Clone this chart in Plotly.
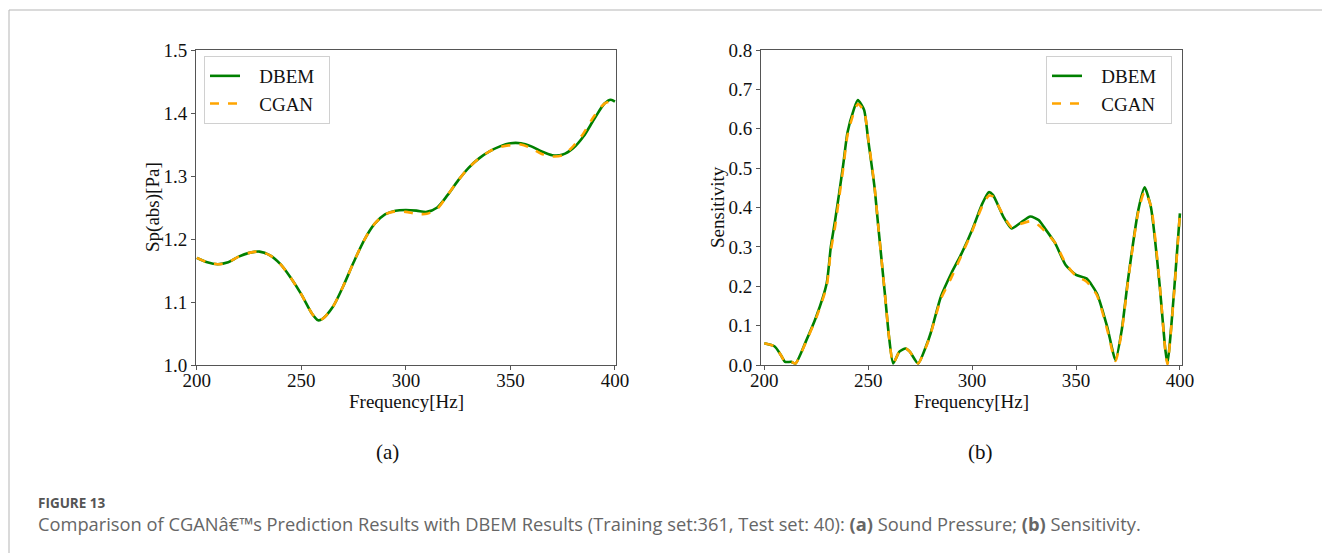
import plotly.graph_objects as go

# The page body adds an 8 px margin, so the figure is drawn 8 px smaller and
# every reference pixel position is shifted by OFF.
OFF = 8
W, H = 1330 - OFF, 553 - OFF

# ---------------- data ----------------
freq_a = [200, 205, 210, 215, 220, 225, 230, 235, 240, 245, 250, 255, 258, 260, 265, 270,
          275, 280, 285, 290, 295, 300, 305, 310, 315, 320, 325, 330, 335, 340, 345, 350,
          355, 360, 365, 370, 375, 380, 385, 390, 395, 398, 400]
sp_dbem = [1.170, 1.163, 1.160, 1.163, 1.172, 1.178, 1.180, 1.174, 1.160, 1.138, 1.112, 1.082,
           1.071, 1.073, 1.092, 1.125, 1.163, 1.198, 1.224, 1.239, 1.245, 1.246, 1.245, 1.243,
           1.250, 1.270, 1.293, 1.313, 1.328, 1.339, 1.347, 1.352, 1.352, 1.347, 1.339, 1.333,
           1.334, 1.344, 1.363, 1.390, 1.415, 1.421, 1.418]
sp_cgan = [1.170, 1.163, 1.160, 1.163, 1.172, 1.178, 1.180, 1.174, 1.160, 1.138, 1.112, 1.082,
           1.071, 1.073, 1.092, 1.125, 1.163, 1.198, 1.224, 1.239, 1.244, 1.243, 1.240, 1.240,
           1.248, 1.270, 1.293, 1.313, 1.328, 1.339, 1.346, 1.349, 1.350, 1.344, 1.335, 1.331,
           1.333, 1.347, 1.368, 1.395, 1.415, 1.418, 1.417]

freq_b = [200, 205, 208, 210, 213, 215, 220, 225, 230, 232, 234, 236, 238, 240, 243, 245,
          248, 250, 253, 255, 258, 260, 262, 265, 268, 270, 274, 278, 280, 285, 290, 295,
          300, 305, 308, 310, 315, 319, 323, 328, 332, 335, 340, 345, 350, 355, 360, 365,
          369, 372, 375, 380, 383, 386, 390, 393, 394, 397, 400]
sens_dbem = [0.055, 0.047, 0.025, 0.008, 0.008, 0.004, 0.060, 0.123, 0.207, 0.300, 0.365, 0.436,
             0.510, 0.590, 0.648, 0.673, 0.648, 0.571, 0.453, 0.343, 0.182, 0.072, 0.004, 0.034,
             0.042, 0.034, 0.004, 0.050, 0.080, 0.174, 0.233, 0.284, 0.343, 0.411, 0.439, 0.432,
             0.377, 0.347, 0.360, 0.377, 0.368, 0.347, 0.309, 0.254, 0.229, 0.220, 0.182, 0.097,
             0.013, 0.089, 0.216, 0.394, 0.451, 0.402, 0.216, 0.038, 0.004, 0.174, 0.385]
sens_cgan = [0.055, 0.047, 0.025, 0.008, 0.008, 0.004, 0.058, 0.120, 0.200, 0.290, 0.350, 0.425,
             0.500, 0.583, 0.640, 0.663, 0.645, 0.575, 0.455, 0.343, 0.182, 0.072, 0.004, 0.034,
             0.042, 0.034, 0.004, 0.048, 0.078, 0.168, 0.222, 0.280, 0.340, 0.405, 0.430, 0.428,
             0.380, 0.350, 0.358, 0.365, 0.355, 0.340, 0.310, 0.258, 0.226, 0.212, 0.178, 0.090,
             0.010, 0.085, 0.212, 0.390, 0.440, 0.405, 0.220, 0.035, 0.002, 0.170, 0.385]

ticks_a = [1.0, 1.1, 1.2, 1.3, 1.4, 1.5]
ticks_b = [0.0, 0.1, 0.2, 0.3, 0.4, 0.5, 0.6, 0.7, 0.8]
ticks_x = [200, 250, 300, 350, 400]

# ---------------- style ----------------
SERIF = "Liberation Serif"
GREEN = "#008000"
ORANGE = "#FFA500"
AX = "#555555"
NB = "\u00a0"


def px(x):
    return (x - OFF) / W


def py(y):
    return 1 - (y - OFF) / H


fig = go.Figure()

fig.add_trace(go.Scatter(x=freq_a, y=sp_dbem, mode="lines", name=NB * 3 + "DBEM" + NB * 2,
                         line=dict(color=GREEN, width=2.6, shape="spline", smoothing=0.8),
                         xaxis="x", yaxis="y", legend="legend"))
fig.add_trace(go.Scatter(x=freq_a, y=sp_cgan, mode="lines", name=NB * 3 + "CGAN" + NB * 2,
                         line=dict(color=ORANGE, width=2.6, dash="dash", shape="spline", smoothing=0.8),
                         xaxis="x", yaxis="y", legend="legend"))
fig.add_trace(go.Scatter(x=freq_b, y=sens_dbem, mode="lines", name=NB * 3 + "DBEM" + NB * 2,
                         line=dict(color=GREEN, width=2.6, shape="spline", smoothing=0.6),
                         xaxis="x2", yaxis="y2", legend="legend2"))
fig.add_trace(go.Scatter(x=freq_b, y=sens_cgan, mode="lines", name=NB * 3 + "CGAN" + NB * 2,
                         line=dict(color=ORANGE, width=2.6, dash="dash", shape="spline", smoothing=0.6),
                         xaxis="x2", yaxis="y2", legend="legend2"))

axis_common = dict(showgrid=False, zeroline=False, showline=True, mirror=True,
                   linecolor=AX, linewidth=1, ticks="outside", ticklen=4, tickwidth=1,
                   tickcolor=AX, automargin=False,
                   tickfont=dict(family=SERIF, size=19, color="#111"))

fig.update_layout(
    template="none",
    width=W, height=H,
    margin=dict(l=0, r=0, t=0, b=0, pad=0, autoexpand=False),
    paper_bgcolor="white", plot_bgcolor="white",
    xaxis=dict(domain=[px(196), px(616)], range=[199.6, 400.5], tickvals=ticks_x,
               anchor="y", ticklabelstandoff=-6, **axis_common),
    yaxis=dict(domain=[py(365), py(50)], range=[1.0, 1.5], tickvals=ticks_a,
               ticktext=[f"{t:.1f}" for t in ticks_a], anchor="x", **axis_common),
    xaxis2=dict(domain=[px(761), px(1182)], range=[198.4, 401], tickvals=ticks_x,
                anchor="y2", ticklabelstandoff=-6, **axis_common),
    yaxis2=dict(domain=[py(365), py(50)], range=[0.0, 0.8], tickvals=ticks_b,
                ticktext=[f"{t:.1f}" for t in ticks_b], anchor="x2", **axis_common),
    legend=dict(x=px(204), y=py(56), xanchor="left", yanchor="top",
                bgcolor="white", bordercolor="#d0d0d0", borderwidth=1,
                font=dict(family=SERIF, size=19, color="#111"), tracegroupgap=0),
    legend2=dict(x=px(1172), y=py(56), xanchor="right", yanchor="top",
                 bgcolor="white", bordercolor="#d0d0d0", borderwidth=1,
                 font=dict(family=SERIF, size=19, color="#111"), tracegroupgap=0),
)

annotations = [
    dict(text="Frequency[Hz]", x=px(406), y=py(401)),
    dict(text="Frequency[Hz]", x=px(971), y=py(401)),
    dict(text="Sp(abs)[Pa]", x=px(153), y=py(207), textangle=-90),
    dict(text="Sensitivity", x=px(717), y=py(207), textangle=-90),
    dict(text="(a)", x=px(388), y=py(452), size=21),
    dict(text="(b)", x=px(980), y=py(452), size=21),
]
for a in annotations:
    fig.add_annotation(text=a["text"], x=a["x"], y=a["y"], xref="paper", yref="paper",
                       xanchor="center", yanchor="middle", showarrow=False,
                       textangle=a.get("textangle", 0),
                       font=dict(family=SERIF, size=a.get("size", 19), color="#111"))

fig.add_annotation(text="<b>FIGURE 13</b>", x=px(36), y=py(503), xref="paper", yref="paper",
                   xanchor="left", yanchor="middle", showarrow=False,
                   font=dict(family="Open Sans", size=13.5, color="#555"))
fig.add_annotation(
    text="Comparison of CGANâ€™s Prediction Results with DBEM Results (Training set:361, Test set: 40): "
         "<b>(a)</b> Sound Pressure; <b>(b)</b> Sensitivity.",
    x=px(36), y=py(523), xref="paper", yref="paper",
    xanchor="left", yanchor="middle", showarrow=False,
    font=dict(family="Open Sans", size=18.3, color="#666"))

# outer frame of the figure panel
fig.add_shape(type="rect", xref="paper", yref="paper",
              x0=px(9), x1=px(1328), y0=-0.05, y1=py(10),
              line=dict(color="#b5b5b5", width=1), fillcolor="rgba(0,0,0,0)", layer="below")

fig.write_html("out.html")
